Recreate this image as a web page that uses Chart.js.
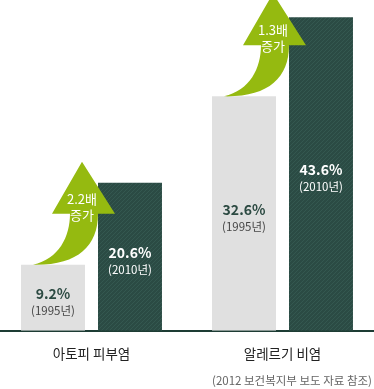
<!DOCTYPE html>
<html>
<head>
<meta charset="utf-8">
<script src="https://cdn.jsdelivr.net/npm/chart.js@4"></script>
<style>
  html, body { margin: 0; padding: 0; background: #fff; overflow: hidden; }
  #wrap { position: absolute; left: -4px; top: 0; width: 382px; height: 389px; }
</style>
</head>
<body>
<div id="wrap"><canvas id="chart"></canvas></div>
<script>
var categories = ['아토피 피부염', '알레르기 비염'];
var years = ['1995년', '2010년'];
var rate1995 = [9.2, 32.6];
var rate2010 = [20.6, 43.6];
var growthLabels = ['2.2배', '1.3배'];
var growthWord = '증가';
var sourceNote = '(2012 보건복지부 보도 자료 참조)';

var color = {
    light: '#e0e0e0',
    dark: '#2b4b44',
    stripe: '#345850',
    arrow: '#95ba10',
    axis: '#1d3c34',
    valueDark: '#2c4a42',
    yearDark: '#454545'
};
var FONT = '"Noto Sans CJK KR", "Noto Sans", sans-serif';

// diagonal hatch for the 2010 bars
function hatch() {
    var c = document.createElement('canvas');
    c.width = 4; c.height = 4;
    var g = c.getContext('2d');
    g.fillStyle = color.dark;
    g.fillRect(0, 0, 4, 4);
    g.strokeStyle = color.stripe;
    g.lineWidth = 1;
    g.beginPath();
    g.moveTo(-1, 5); g.lineTo(5, -1);
    g.moveTo(-1, 1); g.lineTo(1, -1);
    g.moveTo(3, 5); g.lineTo(5, 3);
    g.stroke();
    return g.createPattern(c, 'repeat');
}

var decor = {
    id: 'decor',
    afterDatasetsDraw: function(chart) {
        var ctx = chart.ctx;
        var m0 = chart.getDatasetMeta(0);
        var m1 = chart.getDatasetMeta(1);
        ctx.save();
        // growth arrows anchored on the 1995 bar
        m0.data.forEach(function(bar, i) {
            var L = bar.x - bar.width / 2, R = bar.x + bar.width / 2, T = bar.y;
            ctx.fillStyle = color.arrow;
            ctx.beginPath();
            ctx.moveTo(L + 12, T);
            ctx.bezierCurveTo(R - 8, T + 1, R + 13, T - 18, R + 13, T - 51);
            ctx.lineTo(R + 30, T - 51);
            ctx.lineTo(R - 3, T - 103);
            ctx.lineTo(R - 33, T - 51);
            ctx.lineTo(R - 15, T - 51);
            ctx.bezierCurveTo(R - 15, T - 28, L + 38, T - 6, L + 12, T);
            ctx.closePath();
            ctx.fill();
            ctx.fillStyle = '#fff';
            ctx.textAlign = 'center';
            ctx.textBaseline = 'middle';
            ctx.font = '13px ' + FONT;
            ctx.fillText(growthLabels[i], R - 3, T - 66);
            ctx.fillText(growthWord, R - 3, T - 50);
        });
        // value labels inside the bars
        [m0, m1].forEach(function(meta, d) {
            var vals = d === 0 ? rate1995 : rate2010;
            meta.data.forEach(function(bar, i) {
                var mid = (bar.y + bar.base) / 2;
                ctx.textAlign = 'center';
                ctx.textBaseline = 'middle';
                ctx.fillStyle = d === 0 ? color.valueDark : '#fff';
                ctx.font = 'bold 14px ' + FONT;
                ctx.fillText(vals[i] + '%', bar.x, mid - 4);
                ctx.fillStyle = d === 0 ? color.yearDark : '#fff';
                ctx.font = '11.5px ' + FONT;
                ctx.fillText('(' + years[d] + ')', bar.x, mid + 13);
            });
        });
        // source note
        ctx.fillStyle = '#666';
        ctx.font = '11.5px ' + FONT;
        ctx.textAlign = 'right';
        ctx.textBaseline = 'middle';
        ctx.fillText(sourceNote, chart.width - 6, 381);
        ctx.restore();
    }
};

var chart = new Chart(document.getElementById('chart').getContext('2d'), {
    type: 'bar',
    data: {
        labels: categories,
        datasets: [
            { label: years[0], data: rate1995, backgroundColor: color.light },
            { label: years[1], data: rate2010, backgroundColor: hatch() }
        ]
    },
    options: {
        responsive: true,
        maintainAspectRatio: false,
        animation: false,
        layout: { padding: { top: 0, left: 0, right: 0, bottom: 20 } },
        categoryPercentage: 0.806,
        barPercentage: 0.831,
        plugins: {
            legend: { display: false },
            tooltip: { enabled: false }
        },
        scales: {
            x: {
                grid: { display: false },
                border: { color: color.axis, width: 2 },
                ticks: { color: '#222', padding: 7, font: { size: 13.5, family: FONT } }
            },
            y: { display: false, min: 0, max: 46 }
        }
    },
    plugins: [decor]
});
</script>
</body>
</html>
